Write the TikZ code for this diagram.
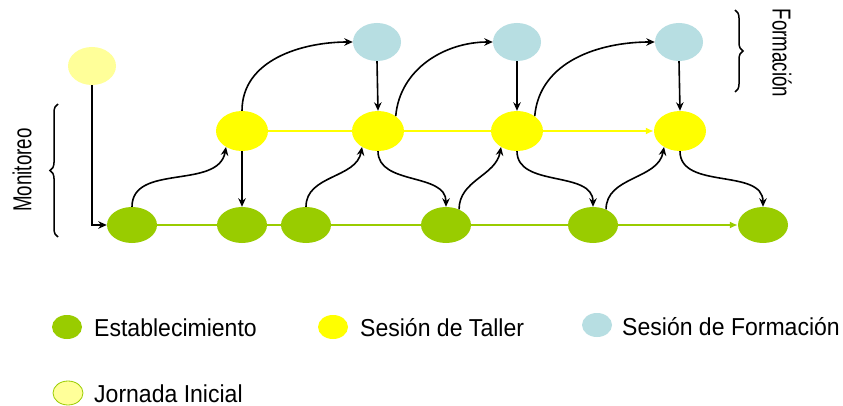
\documentclass[tikz,border=0pt]{standalone}
\usepackage{fontspec}
\setmainfont{Liberation Sans}
\newfontfamily\legfont[FakeStretch=0.94]{Liberation Sans}
\usetikzlibrary{arrows.meta,decorations.pathreplacing,backgrounds,shapes.geometric}
\definecolor{cgreen}{HTML}{99CC00}
\definecolor{cyellow}{HTML}{FFFF00}
\definecolor{cblue}{HTML}{B7DEE2}
\definecolor{cpale}{HTML}{FFFF99}
\begin{document}
\begin{tikzpicture}[x=1pt,y=-1pt,
  gnode/.style={ellipse, fill=cgreen, minimum width=50pt, minimum height=36pt, inner sep=0pt},
  ynode/.style={ellipse, fill=cyellow, minimum width=52pt, minimum height=40pt, inner sep=0pt},
  bnode/.style={ellipse, fill=cblue, minimum width=48pt, minimum height=38pt, inner sep=0pt},
  pnode/.style={ellipse, fill=cpale, minimum width=48pt, minimum height=38pt, inner sep=0pt},
  legdot/.style={ellipse, minimum width=30pt, minimum height=24pt, inner sep=0pt},
  legtxt/.style={anchor=base west, inner sep=0pt, font=\legfont\fontsize{24.5}{28}\selectfont},
  sidetxt/.style={inner sep=0pt, font=\fontsize{26}{30}\selectfont},
  arr/.style={line width=1.6pt, -{Stealth[length=8.5pt,width=7.5pt]}},
  bracestyle/.style={line width=1.5pt, decorate, decoration={brace, amplitude=8pt}},
]
\useasboundingbox (0,0) rectangle (843,406);

% nodes
\node[pnode] (j) at (92,66) {};
\node[gnode] (g1) at (132,225) {};
\node[gnode] (g2) at (242,225) {};
\node[gnode] (g3) at (306,225) {};
\node[gnode] (g4) at (446,225) {};
\node[gnode] (g5) at (593,225) {};
\node[gnode] (g6) at (763,225) {};
\node[ynode] (y1) at (242,131) {};
\node[ynode] (y2) at (378,131) {};
\node[ynode] (y3) at (517,131) {};
\node[ynode] (y4) at (680,131) {};
\node[bnode] (b1) at (377,42) {};
\node[bnode] (b2) at (517,42) {};
\node[bnode] (b3) at (679,42) {};

% background lines
\begin{scope}[on background layer]
  \fill[white] (0,0) rectangle (843,406);
  \draw[cgreen, line width=2.2pt, -{Latex[length=8pt,width=7pt]}] (g1.east) -- (g6.west);
  \draw[cyellow, line width=2.2pt, -{Latex[length=8pt,width=7pt]}] (y1.east) -- (y4.west);
\end{scope}

% black connectors
\draw[arr] (j.south) |- (g1.west);
\draw[arr] (g1.north) to[out=90,in=-100] (y1.225);
\draw[arr] (y1.south) -- (g2.north);
\draw[arr] (y1.north) to[out=90,in=180] (b1.west);
\draw[arr] (b1.south) -- (y2.north);
\draw[arr] (g3.north) to[out=90,in=-100] (y2.225);
\draw[arr] (y2.south) to[out=-90,in=90] (g4.north);
\draw[arr] (y2.40) to[out=85,in=180] (b2.west);
\draw[arr] (b2.south) -- (y3.north);
\draw[arr] (g4.50) to[out=90,in=-100] (y3.225);
\draw[arr] (y3.south) to[out=-90,in=90] (g5.north);
\draw[arr] (y3.40) to[out=85,in=180] (b3.west);
\draw[arr] (b3.south) -- (y4.north);
\draw[arr] (g5.50) to[out=90,in=-100] (y4.225);
\draw[arr] (y4.south) to[out=-90,in=90] (g6.north);

% braces and side labels
\coordinate (mb1) at (58,237);
\coordinate (mb2) at (58,104);
\draw[bracestyle] (mb1) -- (mb2);
\node[sidetxt, rotate=90] (mon) at (22,170) {\scalebox{0.72}[1]{Monitoreo}};
\coordinate (fb1) at (735,10);
\coordinate (fb2) at (735,92);
\draw[bracestyle] (fb1) -- (fb2);
\node[sidetxt, rotate=-90] (form) at (782,53) {\scalebox{0.72}[1]{Formación}};

% legend
\node[legdot, fill=cgreen] (l1) at (67,327) {};
\node[legtxt] (t1) at (94,336) {Establecimiento};
\node[legdot, fill=cyellow] (l2) at (333,327) {};
\node[legtxt] (t2) at (360,336) {Sesión de Taller};
\node[legdot, fill=cblue] (l3) at (597,325) {};
\node[legtxt] (t3) at (622,335) {Sesión de Formación};
\node[legdot, fill=cpale, draw=cgreen, line width=0.8pt] (l4) at (68,393) {};
\node[legtxt] (t4) at (94,402) {Jornada Inicial};
\end{tikzpicture}
\end{document}
